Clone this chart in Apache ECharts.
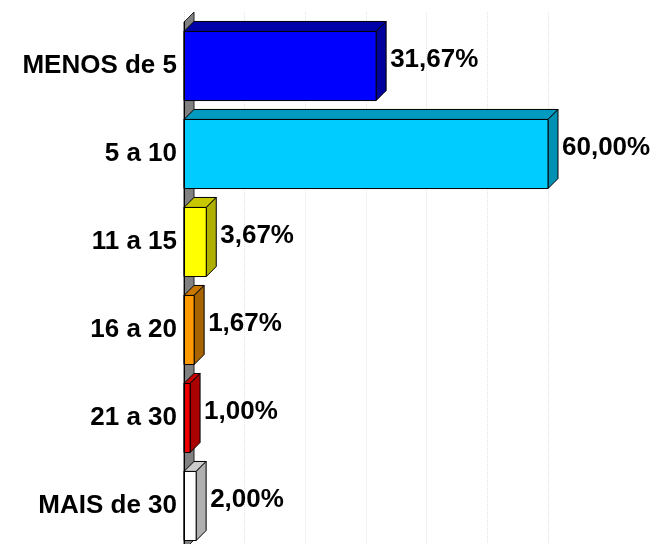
<!DOCTYPE html>
<html lang="pt">
<head>
  <meta charset="UTF-8">
  <title>Faixas</title>
  <script src="https://cdn.jsdelivr.net/npm/echarts@6/dist/echarts.min.js"></script>
  <style>
    html, body { margin: 0; padding: 0; background: #fff; }
  </style>
</head>
<body>
<div id="main" style="width: 656px;height: 544px"></div>
<script>
  // categorias e valores (%)
  const categories = ['MENOS de 5', '5 a 10', '11 a 15', '16 a 20', '21 a 30', 'MAIS de 30'];
  const values = [31.67, 60.00, 3.67, 1.67, 1.00, 2.00];

  // cores: frente, topo, lado
  const frontColors = ['#0000ff', '#00ccff', '#ffff00', '#ff9900', '#ee0000', '#ffffff'];
  const topColors = ['#0000a8', '#0099c0', '#c8c800', '#c87800', '#cc0000', '#cccccc'];
  const sideColors = ['#00009c', '#0090b4', '#b0b000', '#a86400', '#aa0000', '#b0b0b0'];

  const DEPTH = 10;
  const FONT = 'Liberation Sans, Arial, sans-serif';

  function fmt(v) {
    return v.toFixed(2).replace('.', ',') + '%';
  }

  var chart = echarts.init(document.getElementById('main'));

  function renderWall(params, api) {
    var cs = params.coordSys;
    return {
      type: 'polygon',
      shape: {
        points: [
          [cs.x, cs.y],
          [cs.x + DEPTH, cs.y - DEPTH],
          [cs.x + DEPTH, cs.y + cs.height - DEPTH],
          [cs.x, cs.y + cs.height]
        ]
      },
      style: { fill: '#808080', stroke: '#222', lineWidth: 1 }
    };
  }

  function renderBar(params, api) {
    var v = api.value(0), c = api.value(1);
    var i = params.dataIndex;
    var p0 = api.coord([0, c]);
    var p1 = api.coord([v, c]);
    var band = api.size([0, 1])[1];
    var h = band * 0.785;
    var x0 = p0[0], x1 = p1[0];
    var yT = p0[1] - h / 2, yB = p0[1] + h / 2;
    var line = { stroke: '#000', lineWidth: 1 };
    return {
      type: 'group',
      children: [
        {
          type: 'polygon',
          shape: { points: [[x0, yT], [x0 + DEPTH, yT - DEPTH], [x1 + DEPTH, yT - DEPTH], [x1, yT]] },
          style: Object.assign({ fill: topColors[i] }, line)
        },
        {
          type: 'polygon',
          shape: { points: [[x1, yT], [x1 + DEPTH, yT - DEPTH], [x1 + DEPTH, yB - DEPTH], [x1, yB]] },
          style: Object.assign({ fill: sideColors[i] }, line)
        },
        {
          type: 'rect',
          shape: { x: x0, y: yT, width: x1 - x0, height: h },
          style: Object.assign({ fill: frontColors[i] }, line)
        },
        {
          type: 'text',
          x: x1 + DEPTH + 4,
          y: p0[1] - 6,
          style: {
            text: fmt(v),
            fill: '#000',
            font: 'bold 26px ' + FONT,
            align: 'left',
            verticalAlign: 'middle'
          }
        }
      ]
    };
  }

  var option = {
    animation: false,
    grid: [
      // área das barras
      { left: 184, top: 22, width: 364, height: 528, containLabel: false, outerBoundsMode: 'none' },
      // linhas de grade (parede do fundo, começa mais acima)
      { left: 184, top: 12, width: 364, height: 540, containLabel: false, outerBoundsMode: 'none' }
    ],
    xAxis: [
      {
        gridIndex: 0,
        type: 'value',
        min: 0,
        max: 60,
        interval: 10,
        axisLine: { show: false },
        axisTick: { show: false },
        axisLabel: { show: false },
        splitLine: { show: false }
      },
      {
        gridIndex: 1,
        type: 'value',
        min: 0,
        max: 60,
        interval: 10,
        axisLine: { show: false },
        axisTick: { show: false },
        axisLabel: { show: false },
        splitLine: { show: true, lineStyle: { color: '#e4e4e4', type: 'dotted', width: 1 } }
      }
    ],
    yAxis: [
      {
        gridIndex: 0,
        type: 'category',
        inverse: true,
        data: categories,
        axisLine: { show: true, lineStyle: { color: '#000', width: 1 } },
        axisTick: { show: false },
        axisLabel: {
          margin: 7,
          color: '#000',
          fontSize: 26,
          fontWeight: 'bold',
          fontFamily: FONT
        },
        z: 5
      },
      {
        gridIndex: 1,
        type: 'value',
        show: false
      }
    ],
    series: [
      {
        type: 'custom',
        renderItem: renderWall,
        data: [[0, 0]],
        encode: { x: 0, y: 1 },
        silent: true,
        z: 1
      },
      {
        type: 'custom',
        renderItem: renderBar,
        data: values.map(function (v, i) { return [v, i]; }),
        encode: { x: 0, y: 1 },
        clip: false,
        z: 3
      }
    ]
  };
  chart.setOption(option);
</script>
</body>
</html>
